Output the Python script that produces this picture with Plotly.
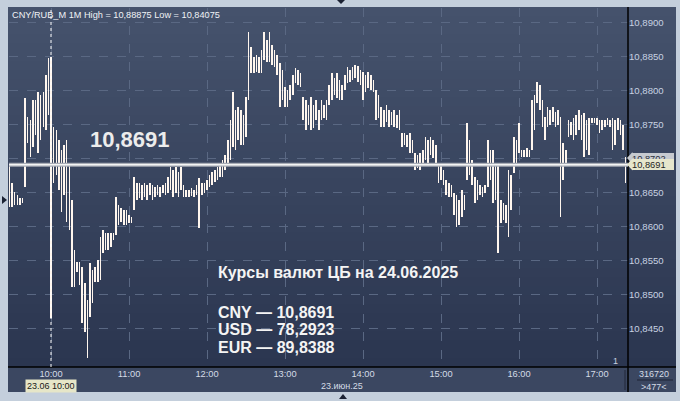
import numpy as np
import pandas as pd
import plotly.graph_objects as go

# ---------------- data (CNY/RUB_M, 1M, 23.06.2025, 2-minute sampling) ----------------
start_time = "2025-06-23 09:28"
highs = [
    10.8691, 10.8664, 10.8651, 10.8646, 10.8642, 10.8642, 10.8789, 10.8761, 10.8757, 10.8787,
    10.8787, 10.8798, 10.8794, 10.8798, 10.8823, 10.8848, 10.8850, 10.8747, 10.8742, 10.8728,
    10.8713, 10.8720, 10.8728, 10.8694, 10.8639, 10.8565, 10.8548, 10.8548, 10.8540, 10.8517,
    10.8492, 10.8546, 10.8536, 10.8540, 10.8551, 10.8584, 10.8595, 10.8590, 10.8590, 10.8590,
    10.8590, 10.8643, 10.8632, 10.8627, 10.8624, 10.8624, 10.8617, 10.8614, 10.8673, 10.8664,
    10.8664, 10.8661, 10.8664, 10.8661, 10.8664, 10.8661, 10.8658, 10.8661, 10.8658, 10.8661,
    10.8664, 10.8673, 10.8688, 10.8683, 10.8688, 10.8680, 10.8688, 10.8661, 10.8654, 10.8654,
    10.8657, 10.8654, 10.8661, 10.8671, 10.8664, 10.8664, 10.8669, 10.8676, 10.8680, 10.8683,
    10.8688, 10.8691, 10.8698, 10.8705, 10.8728, 10.8757, 10.8798, 10.8772, 10.8776, 10.8772,
    10.8764, 10.8791, 10.8887, 10.8865, 10.8850, 10.8853, 10.8850, 10.8860, 10.8887, 10.8875,
    10.8887, 10.8868, 10.8860, 10.8853, 10.8841, 10.8831, 10.8806, 10.8801, 10.8809, 10.8823,
    10.8834, 10.8831, 10.8826, 10.8791, 10.8787, 10.8779, 10.8791, 10.8779, 10.8787, 10.8772,
    10.8787, 10.8779, 10.8787, 10.8809, 10.8826, 10.8819, 10.8826, 10.8816, 10.8809, 10.8823,
    10.8835, 10.8831, 10.8835, 10.8838, 10.8837, 10.8831, 10.8828, 10.8823, 10.8828, 10.8823,
    10.8816, 10.8801, 10.8794, 10.8776, 10.8772, 10.8779, 10.8772, 10.8769, 10.8772, 10.8764,
    10.8772, 10.8738, 10.8738, 10.8735, 10.8738, 10.8728, 10.8708, 10.8705, 10.8708, 10.8713,
    10.8732, 10.8728, 10.8732, 10.8728, 10.8720, 10.8694, 10.8691, 10.8683, 10.8669, 10.8664,
    10.8661, 10.8649, 10.8646, 10.8639, 10.8654, 10.8646, 10.8753, 10.8728, 10.8698, 10.8673,
    10.8669, 10.8661, 10.8658, 10.8661, 10.8728, 10.8713, 10.8713, 10.8691, 10.8694, 10.8639,
    10.8635, 10.8632, 10.8683, 10.8676, 10.8732, 10.8728, 10.8753, 10.8713, 10.8713, 10.8716,
    10.8713, 10.8787, 10.8794, 10.8813, 10.8809, 10.8787, 10.8761, 10.8776, 10.8772, 10.8776,
    10.8769, 10.8772, 10.8761, 10.8723, 10.8713, 10.8757, 10.8754, 10.8760, 10.8764, 10.8772,
    10.8764, 10.8767, 10.8757, 10.8760, 10.8760, 10.8760, 10.8760, 10.8757, 10.8757, 10.8757,
    10.8760, 10.8757, 10.8760, 10.8757, 10.8760, 10.8757, 10.8750, 10.8702,
]
lows = [
    10.8629, 10.8629, 10.8632, 10.8632, 10.8632, 10.8635, 10.8658, 10.8723, 10.8702, 10.8717,
    10.8735, 10.8708, 10.8728, 10.8747, 10.8742, 10.8764, 10.8465, 10.8664, 10.8676, 10.8654,
    10.8621, 10.8646, 10.8607, 10.8595, 10.8511, 10.8511, 10.8533, 10.8514, 10.8458, 10.8444,
    10.8407, 10.8466, 10.8487, 10.8518, 10.8518, 10.8521, 10.8561, 10.8565, 10.8565, 10.8570,
    10.8580, 10.8587, 10.8602, 10.8607, 10.8602, 10.8602, 10.8605, 10.8605, 10.8624, 10.8639,
    10.8642, 10.8639, 10.8643, 10.8639, 10.8646, 10.8639, 10.8643, 10.8646, 10.8643, 10.8649,
    10.8646, 10.8649, 10.8654, 10.8643, 10.8649, 10.8643, 10.8654, 10.8643, 10.8643, 10.8643,
    10.8645, 10.8643, 10.8646, 10.8598, 10.8646, 10.8649, 10.8654, 10.8658, 10.8661, 10.8666,
    10.8669, 10.8673, 10.8673, 10.8683, 10.8691, 10.8698, 10.8717, 10.8713, 10.8728, 10.8720,
    10.8720, 10.8732, 10.8787, 10.8826, 10.8826, 10.8828, 10.8826, 10.8826, 10.8846, 10.8843,
    10.8843, 10.8838, 10.8835, 10.8823, 10.8776, 10.8787, 10.8776, 10.8776, 10.8787, 10.8794,
    10.8812, 10.8809, 10.8806, 10.8757, 10.8742, 10.8750, 10.8742, 10.8745, 10.8757, 10.8742,
    10.8757, 10.8760, 10.8757, 10.8779, 10.8787, 10.8794, 10.8789, 10.8787, 10.8787, 10.8801,
    10.8812, 10.8813, 10.8816, 10.8819, 10.8813, 10.8809, 10.8787, 10.8798, 10.8804, 10.8801,
    10.8798, 10.8757, 10.8760, 10.8747, 10.8747, 10.8754, 10.8747, 10.8750, 10.8747, 10.8745,
    10.8742, 10.8717, 10.8720, 10.8717, 10.8708, 10.8708, 10.8683, 10.8686, 10.8683, 10.8691,
    10.8698, 10.8694, 10.8705, 10.8701, 10.8694, 10.8664, 10.8669, 10.8661, 10.8646, 10.8643,
    10.8643, 10.8617, 10.8599, 10.8602, 10.8614, 10.8624, 10.8669, 10.8676, 10.8661, 10.8635,
    10.8639, 10.8646, 10.8643, 10.8649, 10.8658, 10.8669, 10.8635, 10.8639, 10.8561, 10.8605,
    10.8610, 10.8605, 10.8584, 10.8624, 10.8679, 10.8691, 10.8708, 10.8702, 10.8702, 10.8702,
    10.8702, 10.8713, 10.8742, 10.8782, 10.8772, 10.8747, 10.8728, 10.8747, 10.8750, 10.8754,
    10.8747, 10.8750, 10.8614, 10.8669, 10.8691, 10.8732, 10.8735, 10.8728, 10.8735, 10.8742,
    10.8728, 10.8702, 10.8713, 10.8705, 10.8753, 10.8753, 10.8750, 10.8738, 10.8742, 10.8747,
    10.8750, 10.8747, 10.8713, 10.8720, 10.8742, 10.8735, 10.8713, 10.8664,
]
hour_ticks = ["10:00", "11:00", "12:00", "13:00", "14:00", "15:00", "16:00", "17:00"]
price_ticks = [10.845, 10.850, 10.855, 10.860, 10.865, 10.870, 10.875, 10.880, 10.885, 10.890]
hidden_tick = 10.870          # covered by the price tags in the reference
last_price = 10.8691
prev_price = 10.8702
session_high = "10,88875"
session_low = "10,84075"
cbr_date = "24.06.2025"
cbr_rates = [("CNY", "10,8691"), ("USD", "78,2923"), ("EUR", "89,8388")]
volume_text = "316720"
bars_text = ">477<"

# ---------------- figure ----------------
W, H = 680, 401
ML, MR, MT, MB = 9, 52, 8, 34
PW, PH = W - ML - MR, H - MT - MB


def px(x):
    return (x - ML) / PW


def py(y):
    return (H - MB - y) / PH


def comma(v):
    return f"{v:.4f}".replace(".", ",")


times = pd.date_range(start_time, periods=len(highs), freq="2min")
hi = np.array(highs)
lo = np.array(lows)

fig = go.Figure()
fig.add_trace(go.Bar(
    x=times, base=lo, y=hi - lo, width=66000,
    marker=dict(color="#fff6ee", line=dict(width=0)),
    hoverinfo="skip", showlegend=False,
))

shapes = []
# gradient background of the dark panel
top_c = np.array([0x46, 0x53, 0x6d])
bot_c = np.array([0x2b, 0x36, 0x50])
n = 40
y_top, y_bot = 7, 367
for k in range(n):
    f = (k + 0.5) / n
    c = top_c + (bot_c - top_c) * f
    ya = y_top + (y_bot - y_top) * k / n
    yb = y_top + (y_bot - y_top) * (k + 1) / n + 0.6
    shapes.append(dict(type="rect", xref="paper", yref="paper", layer="below",
                       x0=px(8), x1=px(676), y0=py(yb), y1=py(ya),
                       fillcolor="rgb(%d,%d,%d)" % tuple(c.astype(int)), line=dict(width=0)))
# x-axis strip
shapes.append(dict(type="rect", xref="paper", yref="paper", layer="below",
                   x0=px(8), x1=px(676), y0=py(392), y1=py(367),
                   fillcolor="#3b4761", line=dict(width=0)))
# black separators
shapes.append(dict(type="line", xref="paper", yref="paper", x0=px(628), x1=px(628),
                   y0=py(392), y1=py(7), line=dict(color="#000000", width=1.5)))
shapes.append(dict(type="line", xref="paper", yref="paper", x0=px(8), x1=px(676),
                   y0=py(367), y1=py(367), line=dict(color="#000000", width=1.5)))
shapes.append(dict(type="line", xref="paper", yref="paper", x0=px(625), x1=px(625),
                   y0=py(390), y1=py(370), line=dict(color="#23293a", width=1)))
shapes.append(dict(type="line", xref="paper", yref="paper", x0=px(637), x1=px(673),
                   y0=py(380), y1=py(380), line=dict(color="#1e2536", width=1)))
# crosshair at 10:00
shapes.append(dict(type="line", xref="x", yref="paper", x0="2025-06-23 10:00", x1="2025-06-23 10:00",
                   y0=0, y1=1, line=dict(color="#ffffff", width=1, dash="dot")))
# current price line (double)
shapes.append(dict(type="line", xref="paper", yref="y", x0=0, x1=1, y0=last_price, y1=last_price,
                   line=dict(color="#a9adb6", width=4)))
shapes.append(dict(type="line", xref="paper", yref="y", x0=0, x1=1, y0=last_price, y1=last_price,
                   line=dict(color="#f4f4f4", width=1.5)))


def tip_path(yc):
    pts = [(627, yc), (632.5, yc - 6), (632.5, yc + 6)]
    return "M " + " L ".join("%f,%f" % (px(a), py(b)) for a, b in pts) + " Z"


shapes.append(dict(type="path", xref="paper", yref="paper", path=tip_path(158),
                   fillcolor="#c6cad0", line=dict(width=0)))
shapes.append(dict(type="path", xref="paper", yref="paper", path=tip_path(164.5),
                   fillcolor="#e6e6cc", line=dict(width=0)))
# small markers on the frame
shapes.append(dict(type="path", xref="paper", yref="paper",
                   path="M %f,%f L %f,%f L %f,%f Z" % (px(2), py(196), px(7), py(200), px(2), py(204)),
                   fillcolor="#1b2233", line=dict(width=0)))
shapes.append(dict(type="path", xref="paper", yref="paper",
                   path="M %f,%f L %f,%f L %f,%f Z" % (px(337), py(0), px(345), py(0), px(341), py(4)),
                   fillcolor="#1b2233", line=dict(width=0)))
shapes.append(dict(type="path", xref="paper", yref="paper",
                   path="M %f,%f L %f,%f L %f,%f Z" % (px(339), py(399), px(347), py(399), px(343), py(394)),
                   fillcolor="#1b2233", line=dict(width=0)))

FONT = "Liberation Sans, Arial, sans-serif"
ann = []
ann.append(dict(x=px(10), y=py(15), xref="paper", yref="paper", xanchor="left", yanchor="middle",
                text="CNY/RUB_M 1M High = %s Low = %s" % (session_high, session_low),
                showarrow=False, font=dict(family=FONT, size=9.2, color="#f0f2f6")))
ann.append(dict(x=px(88), y=last_price, xref="paper", yref="y", xanchor="left", yanchor="bottom",
                yshift=11, text="<b>%s</b>" % comma(last_price),
                showarrow=False, font=dict(family=FONT, size=22, color="#ececec")))
ann.append(dict(x=px(216), y=py(272), xref="paper", yref="paper", xanchor="left", yanchor="middle",
                text="<b>Курсы валют ЦБ на %s</b>" % cbr_date,
                showarrow=False, font=dict(family=FONT, size=16, color="#f4f4f4")))
for j, (cur, val) in enumerate(cbr_rates):
    ann.append(dict(x=px(216), y=py(312 + 17.5 * j), xref="paper", yref="paper", xanchor="left",
                    yanchor="middle", text="<b>%s — %s</b>" % (cur, val),
                    showarrow=False, font=dict(family=FONT, size=16, color="#f4f4f4")))
# price tags on the axis (the last one covers the previous one, as in the terminal)
ann.append(dict(x=px(632), y=py(158), xref="paper", yref="paper", xanchor="left", yanchor="middle",
                text=comma(prev_price), showarrow=False, width=42, height=11, align="left",
                bgcolor="#c6cad0", borderpad=0, borderwidth=0,
                font=dict(family=FONT, size=9.3, color="#2a2f3a")))
ann.append(dict(x=px(632), y=py(164.5), xref="paper", yref="paper", xanchor="left", yanchor="middle",
                text=comma(last_price), showarrow=False, width=42, height=11, align="left",
                bgcolor="#e6e6cc", borderpad=0, borderwidth=0,
                font=dict(family=FONT, size=9.3, color="#1e1e1e")))
# crosshair time label
ann.append(dict(x=px(51), y=py(386), xref="paper", yref="paper", xanchor="center", yanchor="middle",
                text="23.06 10:00", showarrow=False, bgcolor="#e6e6c8", borderpad=1,
                font=dict(family=FONT, size=9, color="#1a1a1a")))
ann.append(dict(x=px(342), y=py(386), xref="paper", yref="paper", xanchor="center", yanchor="middle",
                text="23.июн.25", showarrow=False, font=dict(family=FONT, size=9, color="#d4dbe6")))
ann.append(dict(x=px(654), y=py(374), xref="paper", yref="paper", xanchor="center", yanchor="middle",
                text=volume_text, showarrow=False, font=dict(family=FONT, size=9, color="#d4dbe6")))
ann.append(dict(x=px(654), y=py(387), xref="paper", yref="paper", xanchor="center", yanchor="middle",
                text=bars_text, showarrow=False, font=dict(family=FONT, size=9, color="#d4dbe6")))
ann.append(dict(x=px(615), y=py(361), xref="paper", yref="paper", xanchor="center", yanchor="middle",
                text="1", showarrow=False, font=dict(family=FONT, size=9, color="#c8d2e0")))

tick_vals = pd.to_datetime(["2025-06-23 " + h for h in hour_ticks])
price_text = ["" if abs(v - hidden_tick) < 1e-9 else comma(v) for v in price_ticks]

fig.update_layout(
    width=W, height=H,
    margin=dict(l=ML, r=MR, t=MT, b=MB, pad=0),
    paper_bgcolor="#c4cfdc",
    plot_bgcolor="rgba(0,0,0,0)",
    separators=", ",
    showlegend=False,
    bargap=0,
    shapes=shapes,
    annotations=ann,
    xaxis=dict(
        type="date",
        range=["2025-06-23 09:27:41", "2025-06-23 17:23:51"],
        tickvals=tick_vals, ticktext=hour_ticks,
        showgrid=True, gridcolor="#5a6883", griddash="dash", gridwidth=1,
        zeroline=False, showline=False, ticks="",
        tickfont=dict(family=FONT, size=9.3, color="#d4dbe6"),
        fixedrange=True,
    ),
    yaxis=dict(
        side="right",
        range=[10.8393, 10.8922],
        tickvals=price_ticks, ticktext=price_text,
        showgrid=True, gridcolor="#5a6883", griddash="dash", gridwidth=1,
        zeroline=False, showline=False, ticks="", ticklen=0, ticklabelstandoff=0,
        tickfont=dict(family=FONT, size=9.6, color="#c8d2e2"),
        fixedrange=True,
    ),
)

fig.write_html("out.html", config={"displayModeBar": False, "staticPlot": True},
               post_script="document.body.style.margin='0';document.body.style.overflow='hidden';")
